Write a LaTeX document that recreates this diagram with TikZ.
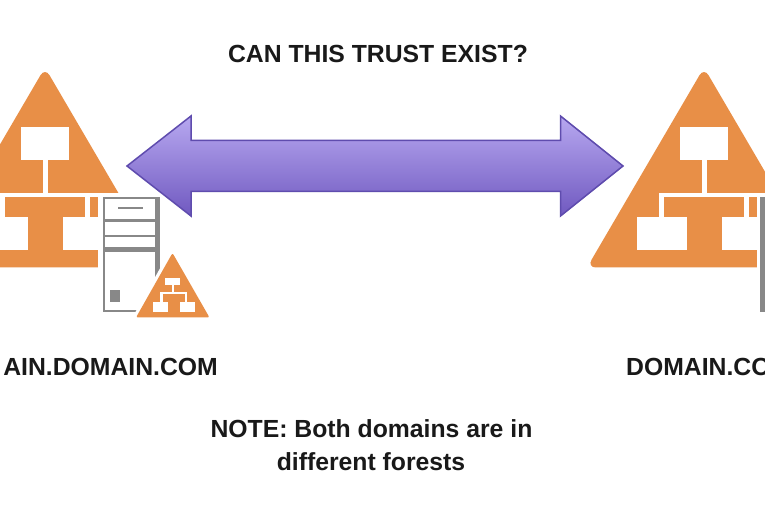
\documentclass[tikz,border=0pt]{standalone}
\usepackage{fontspec}
\setmainfont{Liberation Sans}
\definecolor{org}{HTML}{E88F47}
\definecolor{srv}{HTML}{888888}
\definecolor{arrowedge}{HTML}{5F4CAE}
\definecolor{arrowtop}{HTML}{B7A8F0}
\definecolor{arrowbot}{HTML}{7059C0}
\tikzset{
  org/.style={fill=org,draw=none},
  gap/.style={fill=white,draw=none},
  label/.style={font=\bfseries\fontsize{24.75}{28}\selectfont,text=black!90,inner sep=0pt},
}
\newcommand{\bigtree}[1]{%
 \begin{scope}[shift={(#1,0)}]
  \fill[org,rounded corners=9pt] (45,67.5) -- (162,267.5) -- (-72,267.5) -- cycle;
  \fill[gap] (20.5,127.5) rectangle (68.5,160);
  \fill[gap] (43,160) rectangle (47.5,193);
  \fill[gap] (0,193) rectangle (98,197.5);
  \fill[gap] (0,193) rectangle (5,217);
  \fill[gap] (85,193) rectangle (90,217);
  \fill[gap] (-22,217) rectangle (27.5,250);
  \fill[gap] (62.5,217) rectangle (112,250);
 \end{scope}}
\begin{document}
\begin{tikzpicture}[x=1pt,y=-1pt]
\useasboundingbox (0,0) rectangle (765,510);
\clip (0,0) rectangle (765,510);
\fill[white] (0,0) rectangle (765,510);

\bigtree{0}
\bigtree{659}

% left server
\fill[gap] (97.5,193) rectangle (165,316);
\fill[srv] (102.5,197) rectangle (160,312.5);
\fill[gap] (105,199.5) rectangle (155,219.5);
\fill[gap] (105,222) rectangle (155,235);
\fill[gap] (105,237.5) rectangle (155,247.5);
\fill[gap] (105,252.5) rectangle (155,310);
\fill[srv] (117.5,207.2) rectangle (142.5,209.2);
\fill[srv] (110,290) rectangle (120,302);

% right server, cut by the edge of the picture
\fill[gap] (757,193) rectangle (765,316);
\fill[srv] (760,197) rectangle (765,312.5);

% small tree
\fill[gap] (131,320) -- (172,247) -- (214,320) -- cycle;
\fill[org,rounded corners=2pt] (172.5,253) -- (209.5,317.5) -- (136,317.5) -- cycle;
\fill[gap] (165,278) rectangle (180,285.5);
\fill[gap] (171.7,285) rectangle (174,292);
\fill[gap] (160,292) rectangle (187,294.5);
\fill[gap] (160,292) rectangle (162.5,302);
\fill[gap] (184.5,292) rectangle (187,302);
\fill[gap] (152.5,302) rectangle (167.5,312);
\fill[gap] (180,302) rectangle (195,312);

% double arrow
\path[top color=arrowtop,bottom color=arrowbot,draw=arrowedge,line width=1.5pt,line join=miter]
  (127,166) -- (191,116) -- (191,140.5) -- (560.5,140.5) -- (560.5,116) -- (623,166)
  -- (560.5,216) -- (560.5,191.5) -- (191,191.5) -- (191,216) -- cycle;

\node[label,anchor=base] (title) at (378,63) {CAN THIS TRUST EXIST?};
\node[label,anchor=base east] (leftname) at (218,375) {AIN.DOMAIN.COM};
\node[label,anchor=base west] (rightname) at (626,375) {DOMAIN.COM};
\node[label,anchor=base] (note1) at (371.5,437) {NOTE: Both domains are in};
\node[label,anchor=base] (note2) at (371,470) {different forests};
\end{tikzpicture}
\end{document}
